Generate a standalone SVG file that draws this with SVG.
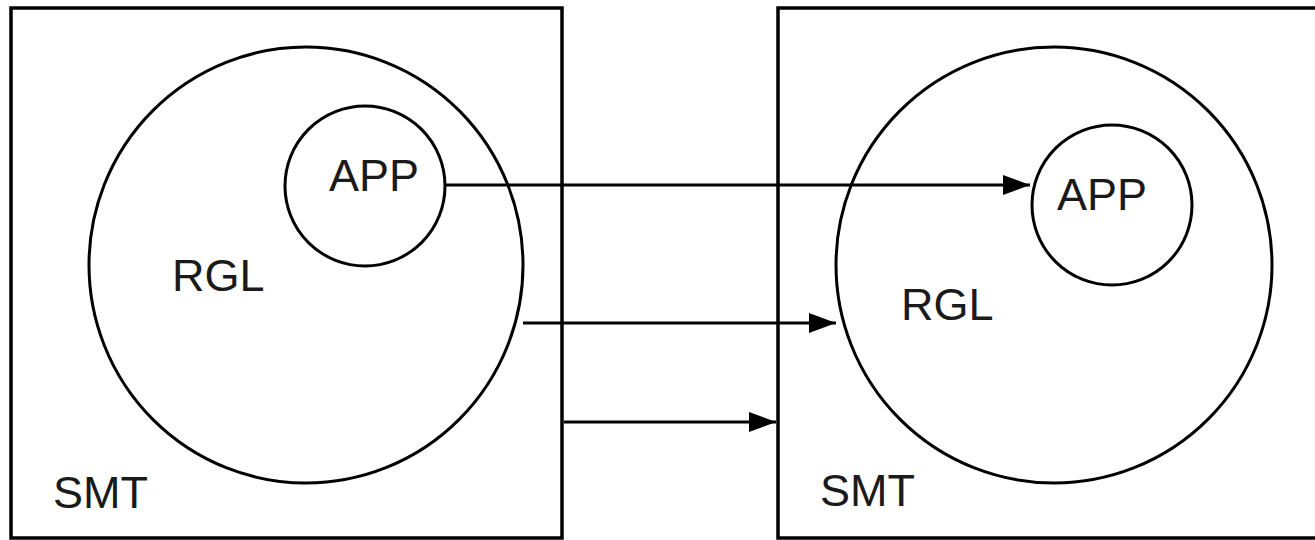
<svg xmlns="http://www.w3.org/2000/svg" width="1315" height="540" viewBox="0 0 1315 540">
  <style>
    .box { fill: none; stroke: #000; stroke-width: 3.5; }
    .ring { fill: none; stroke: #000; stroke-width: 3; }
    .lbl { font-family: "Liberation Sans", Arial, sans-serif; font-size: 45px; fill: #1a1a1a; }
    .conn { stroke: #000; stroke-width: 3; fill: none; }
  </style>
  <defs>
    <marker id="arrow" markerUnits="userSpaceOnUse" markerWidth="28" markerHeight="20" refX="27" refY="10" orient="auto">
      <path d="M0,0 L27,10 L0,20 Z" fill="#000"/>
    </marker>
  </defs>
  <rect width="1315" height="540" fill="#fff"/>

  <g id="smt-left">
    <rect class="box" x="11" y="8" width="551" height="530"/>
    <text class="lbl" x="53" y="508">SMT</text>
  </g>
  <g id="rgl-left">
    <ellipse class="ring" cx="306" cy="265" rx="217" ry="218"/>
    <text class="lbl" x="172" y="291">RGL</text>
  </g>
  <g id="app-left">
    <circle class="ring" cx="365" cy="186" r="80"/>
    <text class="lbl" x="329" y="191">APP</text>
  </g>

  <g id="smt-right">
    <path class="box" d="M1320,8 L778,8 L778,538 L1320,538"/>
    <text class="lbl" x="820" y="506">SMT</text>
  </g>
  <g id="rgl-right">
    <ellipse class="ring" cx="1054" cy="265" rx="218" ry="218"/>
    <text class="lbl" x="901" y="320">RGL</text>
  </g>
  <g id="app-right">
    <circle class="ring" cx="1112" cy="205" r="80"/>
    <text class="lbl" x="1057" y="210">APP</text>
  </g>

  <g id="connectors">
    <line class="conn" x1="445" y1="185" x2="1030" y2="185" marker-end="url(#arrow)"/>
    <line class="conn" x1="523" y1="323" x2="836" y2="323" marker-end="url(#arrow)"/>
    <line class="conn" x1="564" y1="422" x2="776" y2="422" marker-end="url(#arrow)"/>
  </g>
</svg>
